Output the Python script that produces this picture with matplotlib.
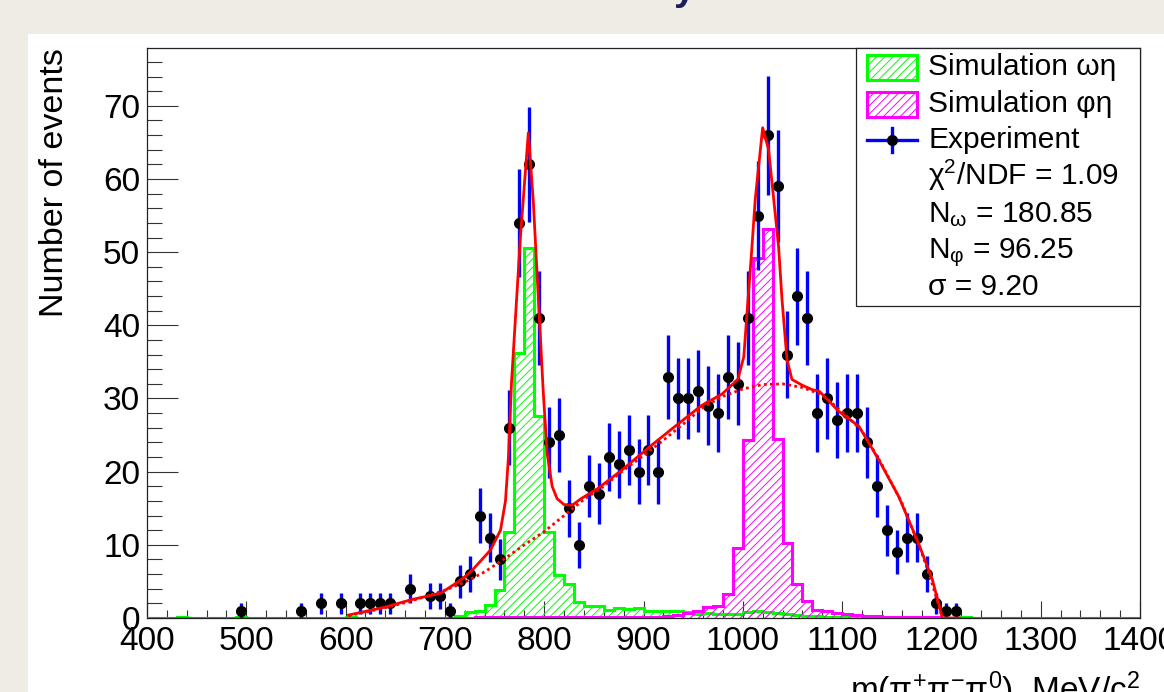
import numpy as np
import matplotlib
matplotlib.use('Agg')
import matplotlib.pyplot as plt
from matplotlib.patches import Rectangle
from matplotlib.lines import Line2D
from matplotlib.ticker import MultipleLocator

plt.rcParams['font.family'] = ['Liberation Sans', 'DejaVu Sans']
plt.rcParams['mathtext.default'] = 'regular'
plt.rcParams['hatch.linewidth'] = 0.7

# ---------------- data ----------------
exp_mass = [495, 555, 575, 595, 615, 625, 635, 645,
            665, 685, 695, 705, 715, 725, 735, 745, 755,
            765, 775, 785, 795, 805, 815, 825, 835, 845, 855,
            865, 875, 885, 895, 905, 915, 925, 935, 945, 955,
            965, 975, 985, 995, 1005, 1015, 1025, 1035, 1045, 1055,
            1065, 1075, 1085, 1095, 1105, 1115, 1125, 1135, 1145, 1155,
            1165, 1175, 1185, 1195, 1205, 1215]
exp_counts = [1, 1, 2, 2, 2, 2, 2, 2,
              4, 3, 3, 1, 5, 6, 14, 11, 8,
              26, 54, 62, 41, 24, 25, 15, 10, 18, 17,
              22, 21, 23, 20, 23, 20, 33, 30, 30, 31,
              29, 28, 33, 32, 41, 55, 66, 59, 36, 44,
              41, 28, 30, 27, 28, 28, 24, 18, 12, 9,
              11, 11, 6, 2, 1, 1]

# simulation histograms, 10 MeV bins from 400 to 1400
sim_omega_eta = [0, 0, 0, 0.1, 0, 0, 0, 0, 0, 0.1,        # 400-490
                 0, 0, 0, 0, 0, 0, 0, 0, 0, 0,            # 500-590
                 0.1, 0, 0, 0, 0, 0, 0, 0, 0, 0,          # 600-690
                 0.05, 0.3, 0.8, 0.9, 1.8, 3.8, 11.8, 36.2, 50.6, 27.6,   # 700-790
                 11.8, 5.9, 4.7, 2.2, 1.7, 1.6, 1.1, 1.3, 1.2, 1.4,       # 800-890
                 1.0, 1.0, 0.9, 0.9, 0.8, 0.6, 0.7, 0.6, 0.6, 0.6,        # 900-990
                 0.8, 0.9, 0.8, 0.7, 0.6, 0.4, 0.3, 0.3, 0.2, 0.2,        # 1000-1090
                 0.2, 0.1, 0.1, 0.1, 0.1, 0.1, 0.2, 0.1, 0.1, 0.1,        # 1100-1190
                 0, 0, 0.2, 0, 0, 0, 0, 0, 0, 0,                          # 1200-1290
                 0, 0, 0, 0, 0, 0, 0, 0, 0, 0]                            # 1300-1390
sim_phi_eta = [0, 0, 0, 0, 0, 0, 0, 0, 0, 0,              # 400-490
               0, 0, 0, 0, 0, 0, 0, 0, 0, 0,              # 500-590
               0, 0, 0, 0, 0, 0, 0, 0, 0, 0,              # 600-690
               0.05, 0.05, 0.05, 0.1, 0.1, 0.1, 0.1, 0.1, 0.1, 0.1,    # 700-790
               0.1, 0.1, 0.1, 0.1, 0.1, 0.1, 0.1, 0.1, 0.1, 0.15,      # 800-890
               0.2, 0.2, 0.3, 0.4, 0.7, 0.9, 1.5, 1.6, 3.3, 9.5,       # 900-990
               24.3, 49.2, 53.2, 24.5, 10.3, 4.6, 2.3, 1.1, 0.9, 0.7,  # 1000-1090
               0.5, 0.4, 0.3, 0.3, 0.2, 0.1, 0.1, 0.2, 0.1, 0.1,       # 1100-1190
               0, 0, 0, 0, 0, 0, 0, 0, 0, 0,              # 1200-1290
               0, 0, 0, 0, 0, 0, 0, 0, 0, 0]              # 1300-1390

# fit curve (total) and background
fit_mass = [603, 620, 640, 666, 696, 716, 726, 746, 756, 761, 764, 767, 776, 784,
            789, 794, 799, 803, 808, 813, 820, 828, 837, 854, 878, 908, 930, 958,
            979, 995, 1001, 1004, 1009, 1012.5, 1020, 1026, 1036, 1039.5, 1044.5,
            1049.5, 1060, 1070, 1077, 1097, 1117, 1137, 1157, 1177, 1191, 1201, 1218]
fit_val = [0.4, 0.9, 1.5, 2.5, 3.4, 5.2, 6.3, 9.3, 12.0, 16.0, 22.0, 32.0, 52.0, 66.3,
           57.0, 44.0, 31.0, 22.5, 18.0, 16.3, 15.5, 15.4, 16.3, 17.7, 20.2, 23.6, 26.0, 29.0,
           30.6, 32.6, 35.7, 41.2, 50.3, 57.2, 67.0, 64.0, 50.8, 43.5, 35.3,
           32.6, 31.8, 31.2, 31.0, 28.2, 26.2, 21.6, 16.6, 10.2, 5.2, 0.0, 0.0]
bkg_mass = [603, 620, 640, 660, 680, 700, 720, 740, 760, 780, 800, 820, 840, 860,
            880, 900, 920, 940, 960, 980, 1000, 1020, 1040, 1060, 1080, 1100, 1120,
            1140, 1160, 1180, 1190, 1201]
bkg_val = [0.3, 0.8, 1.4, 2.1, 2.9, 3.8, 4.9, 6.3, 8.1, 10.0, 11.8, 14.0, 16.2, 18.0,
           20.2, 22.2, 24.3, 26.5, 28.8, 30.3, 31.3, 31.9, 32.0, 31.5, 30.5, 28.2, 25.6,
           21.0, 15.8, 9.0, 5.0, 0.0]

legend_labels = ['Simulation ωη', 'Simulation φη', 'Experiment',
                 'χ$^{2}$/NDF = 1.09', 'N$_{ω}$ = 180.85', 'N$_{φ}$ = 96.25', 'σ = 9.20']

# ---------------- figure ----------------
W, H = 1164, 692
fig = plt.figure(figsize=(W / 100, H / 100), dpi=100)
fig.patch.set_facecolor('#efece6')


def fx(px):
    return px / W


def fy(py):
    return 1 - py / H


fig.add_artist(Rectangle((fx(28), 0), 1 - fx(28), fy(34), transform=fig.transFigure,
                         facecolor='white', edgecolor='none', zorder=-5))
# remnant of slide title cut off at the top
fig.text(fx(685), 1.0, 'y', ha='center', va='baseline', fontsize=28,
         fontweight='bold', color='#1b1e5a')

ax = fig.add_axes([fx(147), fy(618), fx(1140) - fx(147), fy(48) - fy(618)])
ax.set_facecolor('white')

edges = np.arange(400, 1401, 10)
GREEN, MAGENTA, BLUE, RED = '#00ff00', '#ff00ff', '#0000ff', '#ff0000'

ax.stairs(sim_omega_eta, edges, baseline=0, fill=True, facecolor='none',
          edgecolor=GREEN, hatch='////', linewidth=2.2, zorder=3)
ax.stairs(sim_phi_eta, edges, baseline=0, fill=True, facecolor='none',
          edgecolor=MAGENTA, hatch='////', linewidth=2.2, zorder=3.1)

counts = np.array(exp_counts, dtype=float)
ax.errorbar(exp_mass, counts, yerr=np.sqrt(counts), fmt='o', color='black',
            ecolor=BLUE, elinewidth=2.4, capsize=0, markersize=7, zorder=4)

ax.plot(bkg_mass, bkg_val, color=RED, linewidth=2.0, linestyle=(0, (1, 1.2)), zorder=5)
ax.plot(fit_mass, fit_val, color=RED, linewidth=2.0, zorder=5.1)

ax.set_xlim(400, 1400)
ax.set_ylim(0, 77.9)
ax.xaxis.set_major_locator(MultipleLocator(100))
ax.xaxis.set_minor_locator(MultipleLocator(20))
ax.yaxis.set_major_locator(MultipleLocator(10))
ax.yaxis.set_minor_locator(MultipleLocator(2))
ax.tick_params(which='both', direction='in', top=False, right=False,
               labelsize=24, color='#333333', width=0.8)
ax.tick_params(axis='x', which='major', length=12, pad=6)
ax.tick_params(axis='x', which='minor', length=6)
ax.tick_params(axis='y', which='major', length=22, pad=5)
ax.tick_params(axis='y', which='minor', length=11)
for s in ax.spines.values():
    s.set_linewidth(0.9)
    s.set_color('#222222')

fig.text(fx(55), fy(48), 'Number of events', rotation=90, ha='center', va='top',
         fontsize=24.5)
fig.text(fx(1140), fy(701), 'm(π$^{+}$π$^{-}$π$^{0}$), MeV/c$^{2}$', ha='right',
         va='baseline', fontsize=24)

# ---------------- legend box ----------------
fig.add_artist(Rectangle((fx(856), fy(306)), fx(1140) - fx(856), fy(48) - fy(306),
                         transform=fig.transFigure, facecolor='white',
                         edgecolor='#222222', linewidth=0.9, zorder=10))
fig.add_artist(Rectangle((fx(867), fy(80)), fx(917) - fx(867), fy(55) - fy(80),
                         transform=fig.transFigure, facecolor='none', edgecolor=GREEN,
                         hatch='////', linewidth=2.2, zorder=11))
fig.add_artist(Rectangle((fx(867), fy(117)), fx(917) - fx(867), fy(92) - fy(117),
                         transform=fig.transFigure, facecolor='none', edgecolor=MAGENTA,
                         hatch='////', linewidth=2.2, zorder=11))
fig.add_artist(Line2D([fx(867), fx(917)], [fy(140), fy(140)], transform=fig.transFigure,
                      color=BLUE, linewidth=2.4, zorder=11))
fig.add_artist(Line2D([fx(892), fx(892)], [fy(128), fy(152)], transform=fig.transFigure,
                      color=BLUE, linewidth=2.4, zorder=11))
fig.add_artist(Line2D([fx(892)], [fy(140)], transform=fig.transFigure, marker='o',
                      markersize=7, color='black', linestyle='none', zorder=12))
for i, lab in enumerate(legend_labels):
    fig.text(fx(928), fy(75 + 36.7 * i), lab, ha='left', va='baseline',
             fontsize=21.5, zorder=12)

fig.savefig('out.png', dpi=100, facecolor=fig.get_facecolor())
